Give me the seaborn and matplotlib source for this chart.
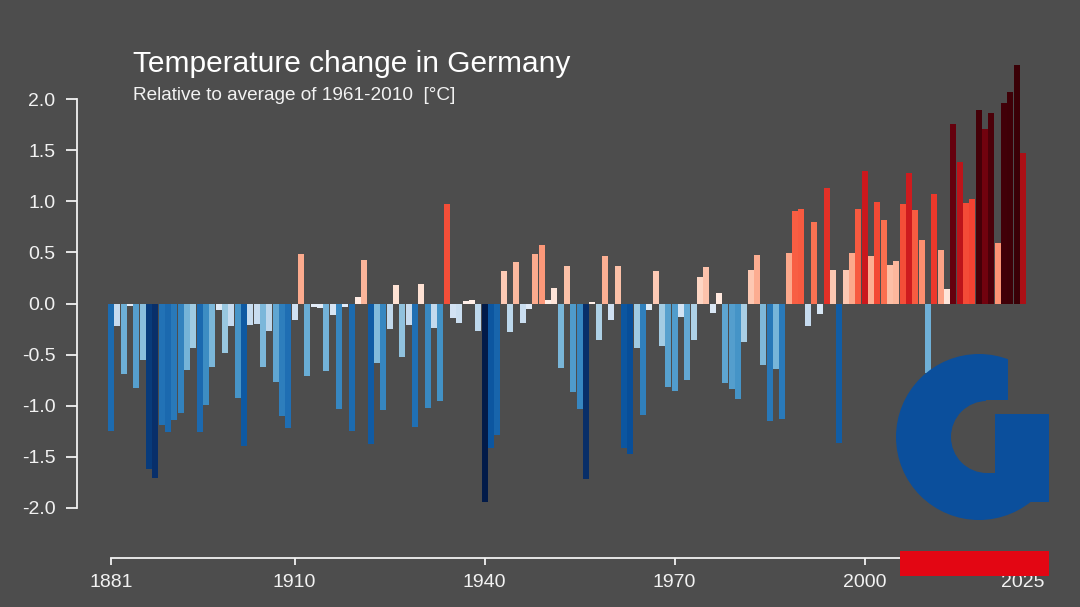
import numpy as np
import pandas as pd
import matplotlib
matplotlib.use("Agg")
import matplotlib.pyplot as plt
from matplotlib.patches import Circle, Rectangle, Wedge
import seaborn as sns

# yearly temperature anomaly, Germany, relative to 1961-2010 [°C]
years = list(range(1881, 2026))
anomaly = [
    -1.25, -0.22, -0.69, -0.02, -0.83, -0.55, -1.62, -1.71, -1.19,          # 1881-1889
    -1.26, -1.14, -1.07, -0.65, -0.44, -1.26, -0.99, -0.62, -0.06, -0.48,   # 1890s
    -0.22, -0.92, -1.39, -0.21, -0.20, -0.62, -0.27, -0.77, -1.10, -1.22,   # 1900s
    -0.16, 0.48, -0.71, -0.03, -0.04, -0.66, -0.11, -1.03, -0.03, -1.25,    # 1910s
    0.06, 0.43, -1.37, -0.58, -1.04, -0.25, 0.18, -0.52, -0.21, -1.21,      # 1920s
    0.19, -1.02, -0.24, -0.95, 0.97, -0.14, -0.19, 0.02, 0.03, -0.27,       # 1930s
    -1.94, -1.41, -1.29, 0.32, -0.28, 0.41, -0.19, -0.05, 0.48, 0.57,       # 1940s
    0.03, 0.15, -0.63, 0.37, -0.87, -1.03, -1.72, 0.01, -0.36, 0.46,        # 1950s
    -0.16, 0.37, -1.41, -1.47, -0.44, -1.09, -0.06, 0.32, -0.42, -0.82,     # 1960s
    -0.86, -0.13, -0.75, -0.36, 0.26, 0.36, -0.09, 0.10, -0.78, -0.84,      # 1970s
    -0.93, -0.38, 0.33, 0.47, -0.60, -1.15, -0.64, -1.13, 0.49, 0.90,       # 1980s
    0.92, -0.22, 0.80, -0.10, 1.13, 0.33, -1.36, 0.33, 0.49, 0.92,          # 1990s
    1.30, 0.46, 0.99, 0.82, 0.38, 0.42, 0.97, 1.28, 0.91, 0.62,             # 2000s
    -0.68, 1.07, 0.52, 0.14, 1.76, 1.38, 0.98, 1.02, 1.89, 1.71,            # 2010s
    1.86, 0.59, 1.96, 2.07, 2.33, 1.47,                                      # 2020s
]
ytick_values = [2.0, 1.5, 1.0, 0.5, 0.0, -0.5, -1.0, -1.5, -2.0]
xtick_years = [1881, 1910, 1940, 1970, 2000, 2025]

title = "Temperature change in Germany"
subtitle = "Relative to average of 1961-2010  [°C]"

BG = "#4d4d4d"
FG = "#f2f2f2"

# stripe colours, by size of the anomaly
cold_at = [0.0, 0.22, 0.45, 0.70, 0.95, 1.20, 1.45, 1.70, 1.95]
cold_col = ["#e6eff9", "#c6dbef", "#9ecae1", "#6baed6", "#4292c6",
            "#2171b5", "#08519c", "#08306b", "#021a48"]
warm_at = [0.0, 0.20, 0.40, 0.60, 0.85, 1.05, 1.30, 1.50, 1.75, 1.90, 2.35]
warm_col = ["#fff0ea", "#fee0d2", "#fcbba1", "#fc9272", "#fb6a4a", "#ef3b2c",
            "#cb181d", "#a50f15", "#67000d", "#420008", "#3a0006"]


def stripe_colour(v):
    at, col = (warm_at, warm_col) if v >= 0 else (cold_at, cold_col)
    rgb = np.array([matplotlib.colors.to_rgb(c) for c in col])
    a = abs(v)
    return tuple(np.interp(a, at, rgb[:, i]) for i in range(3))


df = pd.DataFrame({"year": years, "anomaly": anomaly})
df["key"] = df["year"].astype(str)
palette = {k: stripe_colour(v) for k, v in zip(df["key"], df["anomaly"])}

sns.set_style("white", rc={"axes.facecolor": BG, "figure.facecolor": BG,
                           "axes.grid": False})
plt.rcParams["font.family"] = ["Liberation Sans", "DejaVu Sans"]
plt.rcParams["axes.unicode_minus"] = False

W, H = 1080, 607
fig = plt.figure(figsize=(10.8, 6.07), dpi=100, facecolor=BG)

# pixel layout of the reference
px_year = (1023 - 111) / 144
px_unit = (508 - 99) / 4.0
x0_px, zero_px = 111, 303.5
L, R, T, B = 70, 1050, 50, 565
ax = fig.add_axes([L / W, 1 - B / H, (R - L) / W, (B - T) / H])
ax.set_facecolor(BG)

sns.barplot(data=df, x="year", y="anomaly", hue="key", palette=palette,
            native_scale=True, width=1.0, dodge=False, errorbar=None,
            saturation=1, linewidth=0, legend=False, ax=ax)

ax.set_xlim(1881 + (L - x0_px) / px_year, 1881 + (R - x0_px) / px_year)
ax.set_ylim((zero_px - B) / px_unit, (zero_px - T) / px_unit)

for s in ["top", "right"]:
    ax.spines[s].set_visible(False)
ax.spines["left"].set_position(("data", 1881 + (77 - x0_px) / px_year))
ax.spines["bottom"].set_position(("data", (zero_px - 558) / px_unit))
ax.spines["left"].set_bounds(-2.0, 2.0)
ax.spines["bottom"].set_bounds(1881, 2025)
for s in ["left", "bottom"]:
    ax.spines[s].set_color(FG)
    ax.spines[s].set_linewidth(1.3)

ax.set_yticks(ytick_values)
ax.set_yticklabels([f"{v:.1f}" for v in ytick_values])
ax.set_xticks(xtick_years)
ax.set_xticklabels([str(y) for y in xtick_years])
ax.tick_params(axis="y", direction="out", length=8, width=1.3, pad=7.5,
               colors=FG, labelsize=14, left=True)
ax.tick_params(axis="x", direction="out", length=5, width=1.3, pad=6.5,
               colors=FG, labelsize=14, bottom=True)
ax.set_xlabel("")
ax.set_ylabel("")

fig.text(133 / W, 1 - 72 / H, title, color="white", fontsize=21.5,
         ha="left", va="baseline")
fig.text(133 / W, 1 - 99.5 / H, subtitle, color=FG, fontsize=13.7,
         ha="left", va="baseline")

# logo in the lower right corner
ov = fig.add_axes([0, 0, 1, 1], facecolor="none")
ov.set_xlim(0, W)
ov.set_ylim(H, 0)
ov.axis("off")
blue = "#0b4f9c"
ov.add_patch(Circle((979, 437), 83, color=blue, lw=0))
ov.add_patch(Rectangle((995, 414), 54, 88, color=blue, lw=0))
ov.add_patch(Rectangle((1008, 345), 70, 69, color=BG, lw=0))
ov.add_patch(Rectangle((1049, 345), 30, 190, color=BG, lw=0))
ov.add_patch(Wedge((987, 437), 36, 90, 270, color=BG, lw=0))
ov.add_patch(Rectangle((986, 401), 9, 72, color=BG, lw=0))
ov.add_patch(Rectangle((986, 400), 63, 14, color=BG, lw=0))
ov.add_patch(Rectangle((900, 551), 149, 25, color="#e30613", lw=0))

fig.savefig("out.png", dpi=100, facecolor=BG)
